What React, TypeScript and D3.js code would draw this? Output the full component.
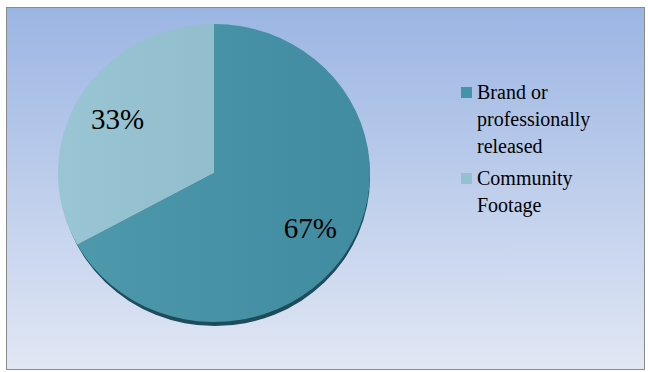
import React, { useEffect, useRef } from "react";
import * as d3 from "d3";

const categories = ["Brand or professionally released", "Community Footage"];
const values = [67, 33];
const labels = ["67%", "33%"];
const legendLines = [["Brand or", "professionally", "released"], ["Community", "Footage"]];
const colors = ["#4493a8", "#93c1d1"];

export default function App() {
  const ref = useRef<SVGSVGElement | null>(null);
  const W = 648, H = 372;
  const cx = 214, cy = 173, rx = 156, ry = 149;
  const sy = ry / rx;

  useEffect(() => {
    const svg = d3.select(ref.current);
    svg.selectAll("*").remove();
    const defs = svg.append("defs");
    const bg = defs.append("linearGradient").attr("id", "bg").attr("x1", 0).attr("y1", 0).attr("x2", 0).attr("y2", 1);
    bg.append("stop").attr("offset", 0).attr("stop-color", "#9bb5e3");
    bg.append("stop").attr("offset", 1).attr("stop-color", "#e1e7f4");
    const sh = defs.append("linearGradient").attr("id", "sheen").attr("x1", 0).attr("y1", 0).attr("x2", 1).attr("y2", 0);
    sh.append("stop").attr("offset", 0).attr("stop-color", "#ffffff").attr("stop-opacity", 0.06);
    sh.append("stop").attr("offset", 1).attr("stop-color", "#000000").attr("stop-opacity", 0.05);

    svg.append("rect").attr("x", 6.5).attr("y", 7.5).attr("width", 638).attr("height", 362)
      .attr("fill", "url(#bg)").attr("stroke", "#8a8a8a");
    svg.append("ellipse").attr("cx", cx + 1).attr("cy", cy + 4).attr("rx", rx - 1).attr("ry", ry).attr("fill", "#1d4c5a");

    const pie = d3.pie<number>().sort(null).value((d) => d)(values);
    const arc = d3.arc<d3.PieArcDatum<number>>().innerRadius(0).outerRadius(rx);
    const labelArc = d3.arc<d3.PieArcDatum<number>>().innerRadius(112).outerRadius(112);
    const g = svg.append("g").attr("transform", `translate(${cx},${cy}) scale(1,${sy})`);
    g.selectAll("path").data(pie).join("path").attr("d", (d) => arc(d) || "").attr("fill", (_, i) => colors[i]);
    g.append("ellipse").attr("rx", rx).attr("ry", rx).attr("fill", "url(#sheen)");

    const font = "'Times New Roman', 'Liberation Serif', serif";
    svg.selectAll("text.pct").data(pie).join("text").attr("class", "pct")
      .attr("x", (d) => cx + labelArc.centroid(d)[0])
      .attr("y", (d) => cy + labelArc.centroid(d)[1] * sy)
      .attr("dy", "0.35em").attr("text-anchor", "middle")
      .style("font-family", font).style("font-size", "29px").style("fill", "#000")
      .text((_, i) => labels[i]);

    let ly = 99;
    legendLines.forEach((lines, i) => {
      const lg = svg.append("g");
      lg.append("rect").attr("x", 461).attr("y", ly - 12).attr("width", 11).attr("height", 11).attr("fill", colors[i]);
      lines.forEach((t, j) => {
        lg.append("text").attr("x", 477).attr("y", ly + j * 27)
          .style("font-family", font).style("font-size", "20px").style("fill", "#000").text(t);
      });
      ly += lines.length * 27 + 5;
    });
  }, []);

  return <svg ref={ref} width={W} height={H} style={{ position: "absolute", left: 0, top: 0 }} aria-label={categories.join(", ")} />;
}
